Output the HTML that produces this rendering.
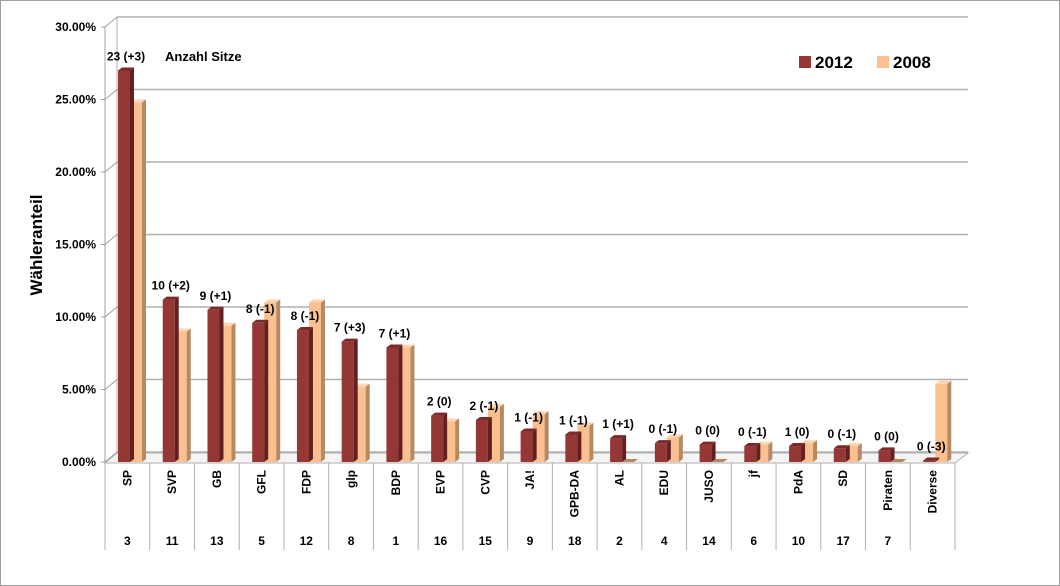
<!DOCTYPE html>
<html><head><meta charset="utf-8"><style>
body{margin:0;background:#fff}
svg{display:block;font-family:"Liberation Sans",sans-serif}
</style></head><body>
<svg id="chart" width="1060" height="586" viewBox="0 0 1060 586">
<rect x="0.5" y="0.5" width="1059" height="585" fill="#fff" stroke="#a0a0a0"/>
<g id="grid"></g><g id="bars"></g><g id="labels"></g><g id="table"></g>
<text x="42" y="245" transform="rotate(-90 42 245)" text-anchor="middle" font-size="17" font-weight="bold">Wähleranteil</text>
<text x="165" y="61" font-size="13" font-weight="bold">Anzahl Sitze</text>
<rect x="799" y="56" width="12" height="12" fill="#953735"/>
<text x="815" y="68" font-size="17" font-weight="bold">2012</text>
<rect x="877" y="56" width="12" height="12" fill="#fac090"/>
<text x="893" y="68" font-size="17" font-weight="bold">2008</text>
</svg>
<script>
const categories=["SP","SVP","GB","GFL","FDP","glp","BDP","EVP","CVP","JA!","GPB-DA","AL","EDU","JUSO","jf","PdA","SD","Piraten","Diverse"];
const listNumbers=["3","11","13","5","12","8","1","16","15","9","18","2","4","14","6","10","17","7",""];
const seatLabels=["23 (+3)","10 (+2)","9 (+1)","8 (-1)","8 (-1)","7 (+3)","7 (+1)","2 (0)","2 (-1)","1 (-1)","1 (-1)","1 (+1)","0 (-1)","0 (0)","0 (-1)","1 (0)","0 (-1)","0 (0)","0 (-3)"];
const values2012=[27.0,11.2,10.5,9.6,9.1,8.3,7.9,3.2,2.9,2.1,1.9,1.65,1.3,1.2,1.1,1.1,0.95,0.8,0.1];
const values2008=[24.8,9.0,9.4,11.0,11.0,5.2,7.9,2.8,3.8,3.3,2.5,0,1.7,0,1.2,1.3,1.1,0,5.4];
const yTicks=[0,5,10,15,20,25,30];
const NS="http://www.w3.org/2000/svg";
const X0=105,X1=955,Y0=462,PX=14.5,DX=8,DY=8;
const cw=(X1-X0)/categories.length;
const y=v=>Y0-v*PX;
const xc=i=>X0+i*cw;
function mk(p,t,a){const e=document.createElementNS(NS,t);for(const k in a)e.setAttribute(k,a[k]);p.appendChild(e);return e;}
const grid=document.getElementById('grid'),bars=document.getElementById('bars'),labels=document.getElementById('labels'),table=document.getElementById('table');
// back wall / axis
let e;
e=mk(grid,'line',{x1:X0+DX+4,y1:y(30)-DY-2,x2:X0+DX+4,y2:Y0-DY,stroke:'#b0b0b0'});

e=mk(grid,'line',{x1:X0,y1:y(30),x2:X0,y2:Y0,stroke:'#a0a0a0'});

yTicks.forEach(t=>{
  const yy=y(t);
  const g=mk(grid,'line',{x1:X0+DX+4,y1:yy-DY-2,x2:968,y2:yy-DY-2,stroke:'#b0b0b0','stroke-width':1.5});
  
  const d=mk(grid,'line',{x1:X0,y1:yy,x2:X0+DX+4,y2:yy-DY-2,stroke:'#a0a0a0'});
  
  const tk=mk(grid,'line',{x1:X0-4,y1:yy,x2:X0,y2:yy,stroke:'#a0a0a0'});
  
  const l=mk(grid,'text',{x:X0-9,y:yy+4,'text-anchor':'end','font-size':12,'font-weight':'bold'});
  l.textContent=t.toFixed(2)+'%';
  
});
e=mk(grid,'polygon',{points:`${X0},${Y0+1} ${X0+DX+4},${Y0-DY-1} 968,${Y0-DY-1} ${X1},${Y0+1}`,fill:'#f4f4f4',stroke:'#b0b0b0'});

function bar(x,v,front,side,top,name){
  const g=mk(bars,'g',{});
  
  const yt=y(v),w=12,d=4,h=3;
  if(v<=0){mk(g,'polygon',{points:`${x},${Y0} ${x+w},${Y0} ${x+w+d},${Y0-h} ${x+d},${Y0-h}`,fill:side});return;}
  mk(g,'rect',{x:x,y:yt,width:w,height:Y0-yt,fill:front});
  mk(g,'polygon',{points:`${x+w},${yt} ${x+w+d},${yt-h} ${x+w+d},${Y0-h} ${x+w},${Y0}`,fill:side});
  mk(g,'polygon',{points:`${x},${yt} ${x+d},${yt-h} ${x+w+d},${yt-h} ${x+w},${yt}`,fill:top});
}
categories.forEach((c,i)=>{
  const bx=xc(i)+13;
  bar(bx+12,values2008[i],'#fac090','#b58a63','#fcd5b4','bar-2008-'+c);
  bar(bx,values2012[i],'#953735','#63201f','#7a2a28','bar-2012-'+c);
  const ly=y(Math.max(values2012[i],0))-10;
  const t=mk(labels,'text',{x:bx+8,y:ly,'text-anchor':'middle','font-size':12,'font-weight':'bold'});
  t.textContent=seatLabels[i];
  
  const cx=xc(i)+cw/2;
  const ct=mk(table,'text',{x:cx+4,y:470,'text-anchor':'end','font-size':12,'font-weight':'bold',transform:`rotate(-90 ${cx+4} 470)`});
  ct.textContent=c;
  
  const nt=mk(table,'text',{x:cx,y:545,'text-anchor':'middle','font-size':12,'font-weight':'bold'});
  nt.textContent=listNumbers[i];
  
});
for(let i=0;i<=categories.length;i++){
  const l=mk(table,'line',{x1:xc(i),y1:Y0+1,x2:xc(i),y2:550,stroke:'#b0b0b0'});
  
}
</script>
</body></html>
